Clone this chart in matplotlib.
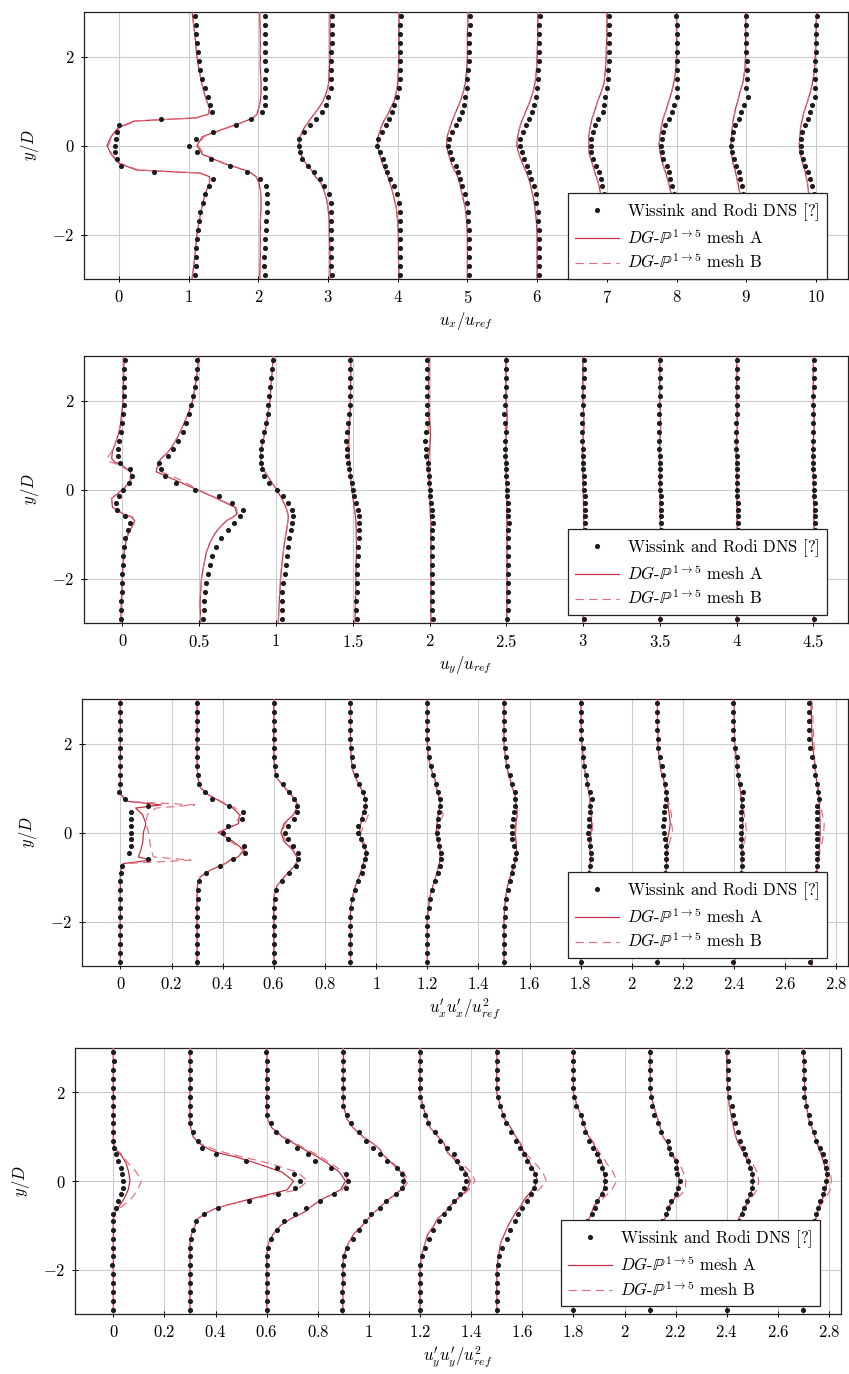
import matplotlib
matplotlib.use('Agg')
import matplotlib.pyplot as plt
from matplotlib.ticker import FuncFormatter
import numpy as np

plt.rcParams['font.family'] = 'serif'
plt.rcParams['font.serif'] = ['cmr10']
plt.rcParams['mathtext.fontset'] = 'cm'
plt.rcParams['axes.formatter.use_mathtext'] = True
plt.rcParams['axes.unicode_minus'] = True

# y positions of the DNS samples and of the simulated profiles
y_dns = [-2.9, -2.7, -2.5, -2.3, -2.1, -1.9, -1.7, -1.5, -1.3, -1.1,
         -0.9, -0.75, -0.6, -0.45, -0.3, -0.15, 0,
         0.15, 0.3, 0.45, 0.6, 0.75, 0.9,
         1.1, 1.3, 1.5, 1.7, 1.9, 2.1, 2.3, 2.5, 2.7, 2.9]
y_line = [-3, -2.5, -2, -1.7, -1.4, -1.2, -1.0, -0.85, -0.7, -0.62, -0.55, -0.4, -0.2,
          0,
          0.2, 0.4, 0.55, 0.62, 0.7, 0.85, 1.0, 1.2, 1.4, 1.7, 2, 2.5, 3]

# ---------------- u_x / u_ref ----------------
ux_offsets = [0, 1, 2, 3, 4, 5, 6, 7, 8, 9]
ux_xticks = [0, 1, 2, 3, 4, 5, 6, 7, 8, 9, 10]
ux_dns = [
    [1.09, 1.10, 1.11, 1.11, 1.12, 1.14, 1.15, 1.17, 1.20, 1.24, 1.30, 1.35, 0.50, 0.03, -0.03, -0.05, -0.06,
     -0.04, -0.02, 0.00, 0.60, 1.33, 1.31, 1.28, 1.23, 1.19, 1.17, 1.15, 1.14, 1.12, 1.11, 1.10, 1.09],
    [1.09, 1.08, 1.08, 1.09, 1.10, 1.11, 1.11, 1.12, 1.12, 1.12, 1.11, 1.02, 0.84, 0.60, 0.32, 0.12, 0.00,
     0.10, 0.35, 0.68, 0.90, 1.05, 1.10, 1.10, 1.10, 1.10, 1.11, 1.10, 1.10, 1.10, 1.10, 1.10, 1.10],
    [1.06, 1.05, 1.05, 1.05, 1.05, 1.05, 1.05, 1.05, 1.04, 1.01, 0.94, 0.88, 0.80, 0.71, 0.63, 0.60, 0.59,
     0.59, 0.66, 0.74, 0.83, 0.91, 0.97, 1.00, 1.04, 1.05, 1.05, 1.05, 1.05, 1.06, 1.06, 1.06, 1.06],
    [1.03, 1.03, 1.03, 1.03, 1.04, 1.04, 1.04, 1.03, 1.02, 0.99, 0.94, 0.89, 0.85, 0.82, 0.79, 0.75, 0.71,
     0.72, 0.78, 0.83, 0.88, 0.92, 0.95, 0.99, 1.02, 1.03, 1.04, 1.04, 1.04, 1.04, 1.04, 1.04, 1.05],
    [1.03, 1.03, 1.03, 1.03, 1.03, 1.02, 1.01, 1.01, 1.00, 0.96, 0.92, 0.90, 0.86, 0.83, 0.78, 0.75, 0.72,
     0.74, 0.78, 0.83, 0.88, 0.92, 0.95, 0.97, 0.99, 1.00, 1.01, 1.02, 1.02, 1.03, 1.03, 1.04, 1.04],
    [1.03, 1.03, 1.03, 1.03, 1.03, 1.03, 1.02, 1.02, 0.99, 0.98, 0.95, 0.91, 0.88, 0.86, 0.81, 0.78, 0.76,
     0.76, 0.80, 0.84, 0.89, 0.93, 0.96, 0.99, 1.00, 1.02, 1.02, 1.03, 1.03, 1.03, 1.03, 1.03, 1.04],
    [1.02, 1.02, 1.02, 1.02, 1.02, 1.02, 1.01, 1.00, 0.98, 0.96, 0.93, 0.91, 0.89, 0.85, 0.80, 0.77, 0.77,
     0.78, 0.80, 0.83, 0.87, 0.94, 0.96, 0.98, 1.00, 1.02, 1.02, 1.03, 1.03, 1.03, 1.03, 1.03, 1.03],
    [1.03, 1.02, 1.02, 1.02, 1.02, 1.02, 1.01, 1.00, 0.99, 0.97, 0.94, 0.91, 0.89, 0.86, 0.81, 0.79, 0.78,
     0.79, 0.81, 0.84, 0.89, 0.93, 0.97, 1.00, 1.01, 1.01, 1.00, 1.00, 1.00, 1.00, 1.00, 1.00, 0.99],
    [1.04, 1.03, 1.03, 1.03, 1.02, 1.02, 1.01, 1.00, 0.98, 0.96, 0.94, 0.91, 0.89, 0.86, 0.82, 0.80, 0.78,
     0.79, 0.81, 0.84, 0.89, 0.93, 0.97, 1.02, 1.00, 1.01, 1.01, 1.01, 1.00, 1.00, 1.00, 1.00, 1.00],
    [1.02, 1.02, 1.01, 1.01, 1.01, 1.01, 1.00, 1.00, 0.99, 0.97, 0.95, 0.92, 0.89, 0.85, 0.81, 0.79, 0.78,
     0.78, 0.80, 0.84, 0.88, 0.92, 0.95, 0.98, 0.99, 0.99, 0.99, 0.99, 1.00, 1.00, 1.00, 1.00, 1.02],
]
ux_meshA = [
    [1.05, 1.09, 1.12, 1.15, 1.19, 1.22, 1.26, 1.30, 1.30, 1.16, 0.25, 0.00, -0.11, -0.17,
     -0.11, -0.01, 0.22, 1.10, 1.28, 1.30, 1.26, 1.22, 1.19, 1.15, 1.12, 1.09, 1.05],
    [1.02, 1.03, 1.03, 1.03, 1.04, 1.04, 1.03, 1.01, 0.97, 0.90, 0.80, 0.50, 0.20, 0.12,
     0.20, 0.55, 0.82, 0.92, 0.98, 1.01, 1.03, 1.04, 1.04, 1.03, 1.03, 1.03, 1.02],
    [1.03, 1.03, 1.02, 1.02, 1.00, 0.98, 0.94, 0.90, 0.82, 0.79, 0.76, 0.68, 0.61, 0.58,
     0.60, 0.66, 0.73, 0.76, 0.80, 0.87, 0.93, 0.98, 1.01, 1.02, 1.03, 1.03, 1.03],
    [1.02, 1.01, 1.01, 1.00, 0.98, 0.95, 0.92, 0.89, 0.86, 0.84, 0.82, 0.78, 0.74, 0.71,
     0.72, 0.76, 0.80, 0.83, 0.86, 0.90, 0.95, 0.98, 1.00, 1.01, 1.02, 1.02, 1.02],
    [1.00, 1.00, 1.00, 0.99, 0.97, 0.94, 0.91, 0.89, 0.86, 0.84, 0.81, 0.77, 0.73, 0.70,
     0.71, 0.75, 0.78, 0.80, 0.82, 0.86, 0.90, 0.94, 0.97, 0.99, 1.00, 1.00, 1.01],
    [1.00, 1.00, 1.00, 0.99, 0.97, 0.95, 0.92, 0.90, 0.87, 0.85, 0.83, 0.79, 0.74, 0.71,
     0.72, 0.75, 0.78, 0.80, 0.82, 0.86, 0.90, 0.94, 0.97, 0.99, 1.00, 1.01, 1.01],
    [1.00, 1.00, 0.99, 0.98, 0.96, 0.93, 0.90, 0.88, 0.85, 0.83, 0.82, 0.79, 0.75, 0.74,
     0.74, 0.76, 0.78, 0.79, 0.81, 0.84, 0.87, 0.92, 0.96, 0.98, 0.99, 1.00, 1.00],
    [1.00, 1.00, 0.99, 0.98, 0.96, 0.94, 0.91, 0.89, 0.86, 0.85, 0.83, 0.80, 0.77, 0.75,
     0.76, 0.78, 0.80, 0.81, 0.83, 0.86, 0.89, 0.93, 0.96, 0.99, 1.00, 1.00, 1.00],
    [1.00, 0.99, 0.98, 0.97, 0.95, 0.92, 0.90, 0.88, 0.86, 0.85, 0.84, 0.81, 0.79, 0.78,
     0.79, 0.80, 0.81, 0.82, 0.83, 0.85, 0.88, 0.91, 0.95, 0.98, 0.99, 0.99, 0.99],
    [1.00, 0.99, 0.98, 0.97, 0.94, 0.91, 0.89, 0.88, 0.86, 0.85, 0.84, 0.81, 0.78, 0.76,
     0.77, 0.78, 0.80, 0.81, 0.82, 0.85, 0.88, 0.92, 0.95, 0.98, 0.99, 1.00, 1.01],
]
# mesh B, only where it departs visibly from mesh A
ux_meshB = {
    0: [1.05, 1.09, 1.12, 1.15, 1.19, 1.22, 1.26, 1.30, 1.31, 1.18, 0.28, 0.02, -0.10, -0.15,
        -0.10, 0.01, 0.25, 1.12, 1.29, 1.30, 1.26, 1.22, 1.19, 1.15, 1.12, 1.09, 1.05],
    1: [1.02, 1.03, 1.03, 1.03, 1.04, 1.04, 1.03, 1.01, 0.97, 0.91, 0.81, 0.52, 0.22, 0.14,
        0.22, 0.57, 0.83, 0.93, 0.98, 1.01, 1.03, 1.04, 1.04, 1.03, 1.03, 1.03, 1.02],
}

# ---------------- u_y / u_ref ----------------
uy_offsets = [0, 0.5, 1.0, 1.5, 2.0, 2.5, 3.0, 3.5, 4.0, 4.5]
uy_xticks = [0, 0.5, 1, 1.5, 2, 2.5, 3, 3.5, 4, 4.5]
uy_dns = [
    [-0.008, -0.009, -0.007, -0.005, -0.003, 0.000, 0.002, 0.004, 0.012, 0.020, 0.036, 0.048, 0.020, -0.035, -0.040, -0.020, 0.002,
     0.045, 0.060, 0.050, -0.017, -0.030, -0.030, -0.020, -0.009, -0.002, 0.002, 0.010, 0.012, 0.013, 0.013, 0.013, 0.015],
    [0.022, 0.030, 0.030, 0.035, 0.042, 0.055, 0.068, 0.085, 0.110, 0.140, 0.185, 0.230, 0.265, 0.285, 0.215, 0.130, -0.030,
     -0.150, -0.220, -0.250, -0.260, -0.200, -0.170, -0.140, -0.105, -0.085, -0.065, -0.056, -0.040, -0.025, -0.020, -0.017, -0.013],
    [0.037, 0.038, 0.038, 0.040, 0.045, 0.058, 0.065, 0.070, 0.078, 0.088, 0.100, 0.105, 0.109, 0.105, 0.080, 0.045, 0.004,
     -0.045, -0.075, -0.090, -0.100, -0.099, -0.098, -0.090, -0.077, -0.067, -0.055, -0.050, -0.045, -0.038, -0.033, -0.027, -0.022],
    [0.025, 0.022, 0.022, 0.025, 0.026, 0.027, 0.030, 0.031, 0.034, 0.038, 0.042, 0.042, 0.040, 0.035, 0.020, 0.010, 0.002,
     -0.008, -0.015, -0.022, -0.028, -0.035, -0.040, -0.043, -0.038, -0.028, -0.022, -0.018, -0.017, -0.017, -0.017, -0.016, -0.016],
    [0.020, 0.015, 0.013, 0.015, 0.015, 0.015, 0.015, 0.016, 0.017, 0.018, 0.019, 0.020, 0.019, 0.015, 0.012, 0.006, 0.000,
     -0.003, -0.006, -0.010, -0.013, -0.020, -0.024, -0.028, -0.020, -0.018, -0.017, -0.017, -0.017, -0.017, -0.017, -0.017, -0.017],
    [0.004, 0.008, 0.008, 0.008, 0.008, 0.008, 0.009, 0.009, 0.010, 0.012, 0.014, 0.015, 0.014, 0.011, 0.009, 0.007, 0.005,
     0.003, 0.001, 0.000, -0.003, -0.010, -0.009, -0.006, -0.005, -0.008, -0.013, -0.010, -0.006, -0.004, -0.003, -0.002, 0.000],
    [0.003, 0.004, 0.004, 0.005, 0.005, 0.006, 0.007, 0.008, 0.009, 0.010, 0.012, 0.013, 0.013, 0.012, 0.011, 0.010, 0.008,
     0.006, 0.004, 0.002, 0.000, -0.002, -0.003, -0.004, -0.005, -0.006, -0.004, -0.002, 0.000, 0.002, 0.003, 0.004, 0.004],
    [0.004, 0.005, 0.005, 0.006, 0.006, 0.007, 0.007, 0.008, 0.008, 0.009, 0.009, 0.009, 0.009, 0.008, 0.007, 0.006, 0.004,
     0.003, 0.002, 0.000, -0.001, -0.002, -0.003, -0.004, -0.005, -0.006, -0.005, -0.003, -0.001, 0.001, 0.002, 0.003, 0.004],
    [0.004, 0.004, 0.005, 0.005, 0.006, 0.006, 0.007, 0.007, 0.008, 0.008, 0.009, 0.009, 0.009, 0.008, 0.006, 0.005, 0.004,
     0.003, 0.002, 0.001, 0.000, -0.001, -0.002, -0.003, -0.003, -0.002, -0.001, 0.000, 0.001, 0.002, 0.003, 0.003, 0.004],
    [0.006, 0.007, 0.007, 0.008, 0.008, 0.009, 0.010, 0.011, 0.012, 0.013, 0.013, 0.013, 0.012, 0.010, 0.008, 0.006, 0.004,
     0.003, 0.002, 0.000, -0.001, -0.002, -0.003, -0.004, -0.004, -0.003, -0.002, -0.001, 0.000, 0.002, 0.003, 0.003, 0.004],
]
uy_meshA = [
    [-0.013, -0.006, 0.000, 0.004, 0.012, 0.022, 0.037, 0.060, 0.080, 0.060, 0.004, -0.065, -0.070, 0.004,
     0.055, 0.054, -0.006, -0.050, -0.070, -0.065, -0.050, -0.030, -0.015, -0.005, 0.005, 0.008, 0.010],
    [0.010, 0.006, 0.015, 0.030, 0.048, 0.070, 0.100, 0.135, 0.178, 0.220, 0.245, 0.233, 0.113, -0.017,
     -0.148, -0.280, -0.270, -0.265, -0.246, -0.200, -0.170, -0.137, -0.110, -0.072, -0.043, -0.017, -0.002],
    [0.015, 0.022, 0.030, 0.038, 0.048, 0.055, 0.065, 0.072, 0.078, 0.080, 0.078, 0.065, 0.037, 0.004,
     -0.035, -0.072, -0.094, -0.098, -0.100, -0.100, -0.090, -0.078, -0.065, -0.052, -0.039, -0.028, -0.017],
    [0.015, 0.018, 0.020, 0.022, 0.024, 0.024, 0.023, 0.022, 0.020, 0.018, 0.016, 0.010, 0.002, -0.006,
     -0.012, -0.016, -0.018, -0.020, -0.022, -0.024, -0.025, -0.024, -0.022, -0.018, -0.015, -0.013, -0.012],
    [0.008, 0.010, 0.010, 0.010, 0.010, 0.010, 0.010, 0.010, 0.008, 0.006, 0.005, 0.004, 0.002, 0.000,
     -0.002, -0.004, -0.006, -0.006, -0.005, -0.002, 0.002, 0.006, 0.004, -0.004, -0.006, -0.005, -0.004],
    [0.003, 0.004, 0.005, 0.005, 0.005, 0.005, 0.005, 0.004, 0.004, 0.004, 0.003, 0.003, 0.002, 0.001,
     0.000, -0.002, -0.003, -0.003, -0.003, -0.004, -0.004, -0.002, 0.004, 0.006, -0.002, -0.003, -0.002],
    [0.001, 0.002, 0.003, 0.003, 0.004, 0.004, 0.004, 0.004, 0.004, 0.004, 0.003, 0.003, 0.002, 0.001,
     0.000, -0.001, -0.002, -0.002, -0.003, -0.004, -0.003, 0.000, 0.006, 0.004, -0.002, -0.002, -0.001],
    [0.002, 0.003, 0.003, 0.004, 0.004, 0.004, 0.004, 0.004, 0.003, 0.003, 0.003, 0.002, 0.002, 0.001,
     0.000, -0.001, -0.002, -0.002, -0.003, -0.003, -0.002, 0.001, 0.005, 0.003, -0.002, -0.002, -0.001],
    [0.001, 0.002, 0.003, 0.003, 0.003, 0.004, 0.004, 0.004, 0.003, 0.003, 0.003, 0.002, 0.001, 0.000,
     0.000, -0.001, -0.002, -0.002, -0.002, -0.003, -0.002, 0.000, 0.004, 0.003, -0.001, -0.001, 0.000],
    [0.002, 0.003, 0.004, 0.004, 0.004, 0.005, 0.005, 0.005, 0.004, 0.004, 0.003, 0.003, 0.002, 0.001,
     0.000, -0.001, -0.002, -0.002, -0.003, -0.003, -0.002, 0.001, 0.005, 0.003, -0.001, -0.001, 0.000],
]
uy_meshB = {
    0: [-0.013, -0.006, 0.000, 0.004, 0.012, 0.022, 0.037, 0.062, 0.085, 0.070, 0.010, -0.060, -0.072, 0.000,
        0.050, 0.050, -0.020, -0.080, -0.100, -0.070, -0.050, -0.030, -0.015, -0.005, 0.005, 0.008, 0.010],
    1: [0.010, 0.006, 0.015, 0.030, 0.048, 0.070, 0.100, 0.135, 0.180, 0.225, 0.250, 0.240, 0.120, -0.010,
        -0.110, -0.250, -0.270, -0.265, -0.246, -0.200, -0.170, -0.137, -0.110, -0.072, -0.043, -0.017, -0.002],
    3: [0.015, 0.018, 0.020, 0.022, 0.024, 0.024, 0.023, 0.022, 0.020, 0.018, 0.016, 0.010, 0.002, -0.006,
        -0.012, -0.016, -0.018, -0.020, -0.024, -0.030, -0.035, -0.040, -0.028, -0.018, -0.015, -0.013, -0.012],
    4: [0.008, 0.010, 0.010, 0.010, 0.010, 0.010, 0.010, 0.010, 0.008, 0.006, 0.005, 0.004, 0.002, 0.000,
        -0.004, -0.010, -0.020, -0.022, -0.020, -0.010, 0.000, 0.000, -0.010, -0.004, -0.006, -0.005, -0.004],
    5: [0.003, 0.004, 0.005, 0.005, 0.005, 0.005, 0.005, 0.004, 0.004, 0.004, 0.003, 0.003, 0.002, 0.001,
        0.000, -0.004, -0.008, -0.008, -0.006, -0.004, -0.004, -0.006, -0.006, 0.006, -0.002, -0.003, -0.002],
    6: [0.001, 0.002, 0.003, 0.003, 0.004, 0.004, 0.004, 0.004, 0.004, 0.004, 0.003, 0.003, 0.002, 0.001,
        0.000, -0.002, -0.004, -0.005, -0.006, -0.006, -0.004, -0.004, 0.002, 0.004, -0.002, -0.002, -0.001],
}

# ---------------- u'x u'x / u_ref^2 ----------------
uxx_offsets = [0, 0.3, 0.6, 0.9, 1.2, 1.5, 1.8, 2.1, 2.4, 2.7]
uxx_xticks = [0, 0.2, 0.4, 0.6, 0.8, 1, 1.2, 1.4, 1.6, 1.8, 2, 2.2, 2.4, 2.6, 2.8]
uxx_dns = [
    [0.000, 0.000, 0.000, 0.000, 0.000, 0.000, 0.000, 0.000, 0.000, 0.000, 0.001, 0.008, 0.110, 0.032, 0.042, 0.042, 0.042,
     0.040, 0.040, 0.042, 0.110, 0.020, -0.006, 0.000, 0.000, 0.000, 0.000, 0.000, 0.000, 0.000, 0.000, 0.000, 0.000],
    [0.000, 0.000, 0.000, 0.000, 0.000, 0.001, 0.001, 0.002, 0.002, 0.006, 0.035, 0.090, 0.140, 0.186, 0.183, 0.120, 0.100,
     0.120, 0.175, 0.178, 0.125, 0.060, 0.030, 0.008, 0.004, 0.001, 0.000, 0.000, 0.000, 0.000, 0.000, 0.000, 0.000],
    [0.000, 0.000, 0.000, 0.000, 0.000, 0.000, 0.000, 0.003, 0.010, 0.031, 0.060, 0.085, 0.093, 0.093, 0.075, 0.055, 0.042,
     0.055, 0.078, 0.091, 0.090, 0.077, 0.058, 0.035, 0.010, 0.003, 0.000, 0.000, 0.000, 0.000, 0.000, 0.000, 0.000],
    [-0.003, -0.002, -0.002, -0.002, -0.002, -0.001, 0.000, 0.005, 0.017, 0.031, 0.045, 0.050, 0.055, 0.062, 0.052, 0.040, 0.030,
     0.030, 0.045, 0.053, 0.057, 0.055, 0.050, 0.034, 0.020, 0.008, 0.004, 0.000, -0.002, -0.002, -0.002, -0.002, -0.002],
    [-0.003, -0.003, -0.003, -0.002, -0.001, 0.000, 0.005, 0.010, 0.017, 0.030, 0.040, 0.048, 0.052, 0.054, 0.045, 0.040, 0.037,
     0.040, 0.043, 0.046, 0.050, 0.048, 0.043, 0.033, 0.024, 0.013, 0.005, 0.002, 0.000, 0.000, 0.000, 0.000, 0.000],
    [0.000, 0.000, 0.000, 0.000, 0.000, 0.002, 0.004, 0.008, 0.015, 0.023, 0.030, 0.037, 0.043, 0.046, 0.038, 0.032, 0.030,
     0.030, 0.035, 0.040, 0.044, 0.043, 0.043, 0.033, 0.022, 0.013, 0.008, 0.002, 0.000, 0.000, 0.000, 0.000, 0.000],
    [0.000, 0.001, 0.002, 0.003, 0.005, 0.008, 0.012, 0.016, 0.022, 0.028, 0.033, 0.035, 0.039, 0.039, 0.036, 0.033, 0.030,
     0.031, 0.033, 0.036, 0.038, 0.043, 0.036, 0.026, 0.021, 0.014, 0.010, 0.007, 0.003, 0.002, 0.001, 0.000, 0.000],
    [0.000, 0.002, 0.004, 0.006, 0.010, 0.014, 0.018, 0.022, 0.026, 0.028, 0.030, 0.032, 0.033, 0.034, 0.033, 0.030, 0.026,
     0.023, 0.025, 0.027, 0.030, 0.032, 0.034, 0.030, 0.023, 0.016, 0.008, 0.004, 0.001, 0.000, 0.000, 0.000, 0.000],
    [-0.003, 0.000, 0.005, 0.009, 0.013, 0.017, 0.020, 0.023, 0.025, 0.027, 0.028, 0.030, 0.030, 0.030, 0.028, 0.027, 0.027,
     0.025, 0.025, 0.027, 0.030, 0.032, 0.034, 0.022, 0.016, 0.012, 0.010, 0.004, -0.003, -0.003, -0.003, -0.003, -0.003],
    [-0.004, 0.000, 0.003, 0.006, 0.009, 0.011, 0.013, 0.015, 0.016, 0.017, 0.018, 0.022, 0.025, 0.025, 0.022, 0.024, 0.025,
     0.022, 0.022, 0.022, 0.022, 0.030, 0.028, 0.023, 0.016, 0.012, 0.006, -0.004, -0.007, -0.007, -0.007, -0.007, -0.006],
]
uxx_meshA = [
    [0.000, 0.000, 0.000, 0.000, 0.000, 0.000, 0.000, 0.001, 0.010, 0.120, 0.070, 0.080, 0.088, 0.090,
     0.100, 0.087, 0.060, 0.160, 0.030, 0.002, 0.000, 0.000, 0.000, 0.000, 0.000, 0.000, 0.000],
    [0.000, 0.000, 0.000, 0.000, 0.000, 0.001, 0.012, 0.050, 0.110, 0.130, 0.160, 0.185, 0.140, 0.082,
     0.162, 0.166, 0.140, 0.114, 0.090, 0.043, 0.014, 0.004, 0.001, 0.000, 0.000, 0.000, 0.000],
    [0.000, 0.000, 0.000, 0.000, 0.002, 0.012, 0.040, 0.065, 0.088, 0.094, 0.090, 0.075, 0.040, 0.028,
     0.040, 0.076, 0.090, 0.093, 0.088, 0.068, 0.045, 0.015, 0.004, 0.000, 0.000, 0.000, 0.000],
    [0.000, 0.000, 0.000, 0.000, 0.010, 0.019, 0.033, 0.042, 0.050, 0.055, 0.058, 0.060, 0.044, 0.035,
     0.040, 0.047, 0.058, 0.060, 0.058, 0.053, 0.040, 0.022, 0.008, 0.002, 0.000, 0.000, 0.000],
    [0.000, 0.000, 0.000, 0.004, 0.012, 0.022, 0.033, 0.040, 0.047, 0.050, 0.051, 0.050, 0.042, 0.034,
     0.038, 0.043, 0.048, 0.050, 0.050, 0.044, 0.036, 0.030, 0.017, 0.004, 0.000, 0.000, 0.000],
    [0.000, 0.000, 0.000, 0.002, 0.008, 0.014, 0.025, 0.034, 0.042, 0.045, 0.048, 0.049, 0.046, 0.043,
     0.046, 0.052, 0.050, 0.048, 0.046, 0.043, 0.033, 0.024, 0.014, 0.005, 0.000, 0.000, 0.000],
    [0.000, 0.002, 0.006, 0.010, 0.017, 0.024, 0.030, 0.034, 0.037, 0.039, 0.039, 0.036, 0.036, 0.040,
     0.043, 0.041, 0.038, 0.037, 0.036, 0.033, 0.029, 0.024, 0.015, 0.010, 0.004, 0.001, 0.000],
    [0.000, 0.004, 0.012, 0.018, 0.025, 0.028, 0.032, 0.034, 0.035, 0.036, 0.036, 0.037, 0.038, 0.045,
     0.050, 0.046, 0.043, 0.042, 0.040, 0.036, 0.030, 0.024, 0.013, 0.006, 0.002, 0.000, 0.000],
    [0.000, 0.008, 0.016, 0.020, 0.024, 0.027, 0.028, 0.029, 0.030, 0.030, 0.030, 0.030, 0.031, 0.033,
     0.034, 0.032, 0.030, 0.030, 0.029, 0.026, 0.023, 0.018, 0.012, 0.008, 0.002, 0.000, 0.000],
    [0.004, 0.008, 0.013, 0.016, 0.018, 0.020, 0.022, 0.023, 0.026, 0.028, 0.030, 0.032, 0.035, 0.036,
     0.036, 0.035, 0.034, 0.033, 0.031, 0.030, 0.027, 0.021, 0.017, 0.012, 0.006, 0.002, 0.000],
]
uxx_meshB = {
    0: [0.000, 0.000, 0.000, 0.000, 0.000, 0.000, 0.000, 0.001, 0.015, 0.275, 0.130, 0.120, 0.115, 0.110,
        0.100, 0.105, 0.140, 0.290, 0.020, 0.002, 0.000, 0.000, 0.000, 0.000, 0.000, 0.000, 0.000],
    1: [0.000, 0.000, 0.000, 0.000, 0.000, 0.001, 0.012, 0.050, 0.105, 0.125, 0.155, 0.180, 0.130, 0.090,
        0.150, 0.170, 0.150, 0.120, 0.095, 0.045, 0.014, 0.004, 0.001, 0.000, 0.000, 0.000, 0.000],
    2: [0.000, 0.000, 0.000, 0.000, 0.002, 0.012, 0.040, 0.065, 0.085, 0.092, 0.090, 0.078, 0.048, 0.032,
        0.045, 0.078, 0.088, 0.090, 0.085, 0.065, 0.042, 0.015, 0.004, 0.000, 0.000, 0.000, 0.000],
    3: [0.000, 0.000, 0.000, 0.000, 0.010, 0.019, 0.033, 0.042, 0.052, 0.058, 0.062, 0.070, 0.050, 0.040,
        0.055, 0.070, 0.062, 0.060, 0.058, 0.053, 0.040, 0.022, 0.008, 0.002, 0.000, 0.000, 0.000],
    4: [0.000, 0.000, 0.000, 0.004, 0.012, 0.022, 0.033, 0.040, 0.045, 0.048, 0.050, 0.050, 0.045, 0.040,
        0.050, 0.062, 0.055, 0.052, 0.050, 0.044, 0.036, 0.028, 0.015, 0.004, 0.000, 0.000, 0.000],
    5: [0.000, 0.000, 0.000, 0.002, 0.008, 0.014, 0.022, 0.030, 0.040, 0.044, 0.047, 0.050, 0.048, 0.045,
        0.048, 0.052, 0.050, 0.048, 0.046, 0.043, 0.033, 0.022, 0.012, 0.005, 0.000, 0.000, 0.000],
    6: [0.000, 0.002, 0.006, 0.010, 0.017, 0.024, 0.030, 0.034, 0.037, 0.039, 0.039, 0.038, 0.040, 0.045,
        0.047, 0.043, 0.040, 0.038, 0.036, 0.033, 0.029, 0.024, 0.015, 0.010, 0.004, 0.001, 0.000],
    7: [0.000, 0.004, 0.012, 0.018, 0.025, 0.028, 0.032, 0.034, 0.035, 0.036, 0.036, 0.040, 0.048, 0.060,
        0.055, 0.055, 0.050, 0.047, 0.043, 0.036, 0.030, 0.024, 0.013, 0.006, 0.002, 0.000, 0.000],
    8: [0.000, 0.008, 0.016, 0.020, 0.024, 0.027, 0.028, 0.029, 0.030, 0.030, 0.032, 0.035, 0.040, 0.048,
        0.045, 0.040, 0.035, 0.032, 0.030, 0.026, 0.023, 0.018, 0.012, 0.008, 0.002, 0.000, 0.000],
    9: [0.004, 0.008, 0.013, 0.016, 0.018, 0.020, 0.022, 0.023, 0.026, 0.028, 0.032, 0.036, 0.045, 0.050,
        0.052, 0.045, 0.040, 0.037, 0.034, 0.031, 0.028, 0.022, 0.018, 0.014, 0.012, 0.008, 0.004],
}

# ---------------- u'y u'y / u_ref^2 ----------------
uyy_offsets = [0, 0.3, 0.6, 0.9, 1.2, 1.5, 1.8, 2.1, 2.4, 2.7]
uyy_xticks = uxx_xticks
uyy_dns = [
    [0.000, 0.000, 0.000, 0.000, 0.000, -0.004, -0.002, 0.000, 0.000, 0.000, 0.000, 0.000, 0.012, 0.020, 0.030, 0.037, 0.039,
     0.035, 0.030, 0.020, 0.009, 0.002, 0.000, 0.000, 0.000, 0.000, 0.000, 0.000, 0.000, 0.000, 0.000, 0.002, 0.000],
    [0.000, 0.000, 0.000, 0.000, 0.000, 0.000, 0.000, 0.000, 0.003, 0.010, 0.025, 0.055, 0.110, 0.230, 0.345, 0.410, 0.430,
     0.405, 0.340, 0.220, 0.100, 0.045, 0.030, 0.010, 0.000, 0.000, 0.000, 0.000, 0.000, 0.000, 0.000, 0.000, -0.002],
    [0.000, 0.000, 0.000, 0.000, 0.000, 0.000, 0.000, 0.007, 0.018, 0.040, 0.068, 0.110, 0.153, 0.210, 0.265, 0.310, 0.320,
     0.310, 0.252, 0.190, 0.160, 0.120, 0.080, 0.037, 0.015, 0.002, 0.000, 0.000, 0.000, 0.000, 0.000, 0.000, -0.003],
    [-0.005, -0.004, -0.004, -0.003, -0.003, -0.001, 0.003, 0.015, 0.037, 0.061, 0.085, 0.108, 0.142, 0.165, 0.205, 0.230, 0.235,
     0.230, 0.210, 0.170, 0.145, 0.115, 0.088, 0.060, 0.030, 0.013, -0.003, 0.000, 0.000, 0.000, 0.000, 0.000, 0.000],
    [0.000, 0.000, 0.000, 0.000, 0.000, 0.000, 0.006, 0.019, 0.035, 0.050, 0.073, 0.095, 0.115, 0.133, 0.155, 0.172, 0.180,
     0.175, 0.160, 0.145, 0.132, 0.107, 0.080, 0.058, 0.032, 0.021, 0.008, 0.000, 0.000, 0.000, 0.000, 0.000, 0.000],
    [0.000, 0.000, 0.000, 0.000, 0.000, 0.005, 0.010, 0.022, 0.040, 0.052, 0.070, 0.085, 0.100, 0.117, 0.134, 0.145, 0.150,
     0.148, 0.135, 0.120, 0.105, 0.090, 0.077, 0.054, 0.038, 0.025, 0.014, 0.004, 0.000, 0.000, 0.000, 0.000, 0.000],
    [0.000, 0.000, 0.000, 0.000, 0.000, 0.005, 0.010, 0.018, 0.028, 0.045, 0.055, 0.073, 0.085, 0.092, 0.110, 0.122, 0.125,
     0.125, 0.112, 0.100, 0.092, 0.078, 0.060, 0.045, 0.038, 0.030, 0.012, 0.002, 0.000, 0.000, 0.000, 0.000, 0.000],
    [0.000, 0.000, 0.002, 0.005, 0.010, 0.015, 0.020, 0.027, 0.035, 0.042, 0.048, 0.062, 0.072, 0.083, 0.100, 0.110, 0.116,
     0.105, 0.103, 0.100, 0.080, 0.075, 0.070, 0.042, 0.030, 0.016, 0.008, 0.003, 0.000, 0.000, 0.000, 0.000, 0.000],
    [0.000, 0.000, 0.003, 0.006, 0.010, 0.015, 0.020, 0.026, 0.033, 0.040, 0.048, 0.060, 0.068, 0.080, 0.090, 0.097, 0.100,
     0.099, 0.092, 0.083, 0.070, 0.063, 0.052, 0.043, 0.032, 0.025, 0.020, 0.010, 0.005, 0.004, 0.004, 0.004, 0.000],
    [0.000, 0.000, 0.003, 0.006, 0.010, 0.014, 0.018, 0.022, 0.027, 0.033, 0.040, 0.050, 0.057, 0.063, 0.075, 0.081, 0.087,
     0.093, 0.090, 0.083, 0.075, 0.063, 0.050, 0.042, 0.027, 0.023, 0.012, 0.004, 0.002, 0.002, 0.002, 0.002, 0.000],
]
uyy_meshA = [
    [0.000, 0.000, 0.000, 0.000, 0.000, 0.000, 0.000, 0.000, 0.008, 0.018, 0.025, 0.042, 0.058, 0.065,
     0.060, 0.050, 0.035, 0.025, 0.010, 0.000, 0.000, 0.000, 0.000, 0.000, 0.000, 0.000, 0.000],
    [0.000, 0.000, 0.000, 0.000, 0.000, 0.006, 0.020, 0.030, 0.070, 0.100, 0.140, 0.240, 0.380, 0.405,
     0.360, 0.260, 0.175, 0.120, 0.079, 0.035, 0.012, 0.003, 0.000, 0.000, 0.000, 0.000, 0.000],
    [0.000, 0.000, 0.000, 0.000, 0.007, 0.025, 0.055, 0.095, 0.148, 0.165, 0.180, 0.220, 0.289, 0.308,
     0.285, 0.238, 0.197, 0.176, 0.150, 0.106, 0.060, 0.020, 0.003, 0.000, 0.000, 0.000, 0.000],
    [-0.002, -0.002, -0.002, 0.000, 0.020, 0.040, 0.075, 0.097, 0.122, 0.140, 0.150, 0.180, 0.225, 0.244,
     0.225, 0.190, 0.163, 0.150, 0.146, 0.115, 0.076, 0.038, 0.014, 0.000, 0.000, 0.000, 0.000],
    [0.000, 0.000, 0.000, 0.005, 0.020, 0.030, 0.055, 0.068, 0.100, 0.108, 0.120, 0.145, 0.185, 0.197,
     0.180, 0.146, 0.125, 0.110, 0.102, 0.094, 0.070, 0.040, 0.028, 0.010, 0.000, 0.000, 0.000],
    [0.000, 0.000, 0.000, 0.007, 0.015, 0.030, 0.045, 0.060, 0.075, 0.086, 0.095, 0.110, 0.140, 0.160,
     0.148, 0.130, 0.116, 0.110, 0.102, 0.092, 0.075, 0.055, 0.030, 0.014, 0.000, 0.000, 0.000],
    [0.000, 0.000, 0.000, 0.006, 0.020, 0.035, 0.050, 0.062, 0.072, 0.077, 0.082, 0.100, 0.118, 0.125,
     0.118, 0.112, 0.100, 0.094, 0.088, 0.079, 0.060, 0.045, 0.035, 0.014, 0.000, 0.000, 0.000],
    [0.000, 0.000, 0.000, 0.010, 0.025, 0.038, 0.050, 0.058, 0.068, 0.072, 0.076, 0.095, 0.108, 0.115,
     0.110, 0.105, 0.090, 0.080, 0.075, 0.068, 0.050, 0.040, 0.030, 0.014, 0.002, 0.000, 0.000],
    [0.000, 0.000, 0.000, 0.010, 0.020, 0.030, 0.040, 0.047, 0.060, 0.068, 0.075, 0.085, 0.099, 0.104,
     0.100, 0.085, 0.073, 0.067, 0.060, 0.045, 0.035, 0.027, 0.020, 0.010, 0.005, 0.000, 0.000],
    [0.000, 0.000, 0.000, 0.010, 0.020, 0.030, 0.043, 0.048, 0.055, 0.058, 0.062, 0.075, 0.086, 0.093,
     0.090, 0.080, 0.072, 0.068, 0.063, 0.053, 0.045, 0.033, 0.020, 0.012, 0.006, 0.002, 0.000],
]
uyy_meshB = {
    0: [0.000, 0.000, 0.000, 0.000, 0.000, 0.000, 0.000, 0.000, 0.008, 0.022, 0.040, 0.070, 0.095, 0.110,
        0.090, 0.058, 0.040, 0.030, 0.012, 0.000, 0.000, 0.000, 0.000, 0.000, 0.000, 0.000, 0.000],
    1: [0.000, 0.000, 0.000, 0.000, 0.000, 0.006, 0.020, 0.030, 0.070, 0.100, 0.140, 0.250, 0.420, 0.460,
        0.420, 0.310, 0.200, 0.150, 0.100, 0.040, 0.013, 0.003, 0.000, 0.000, 0.000, 0.000, 0.000],
    2: [0.000, 0.000, 0.000, 0.000, 0.007, 0.025, 0.055, 0.095, 0.148, 0.165, 0.180, 0.222, 0.295, 0.320,
        0.300, 0.250, 0.210, 0.188, 0.160, 0.115, 0.065, 0.022, 0.003, 0.000, 0.000, 0.000, 0.000],
    3: [-0.002, -0.002, -0.002, 0.000, 0.020, 0.040, 0.075, 0.097, 0.122, 0.140, 0.150, 0.182, 0.232, 0.255,
        0.235, 0.195, 0.165, 0.150, 0.146, 0.115, 0.076, 0.038, 0.014, 0.000, 0.000, 0.000, 0.000],
    4: [0.000, 0.000, 0.000, 0.005, 0.020, 0.030, 0.055, 0.068, 0.100, 0.108, 0.120, 0.150, 0.190, 0.215,
        0.200, 0.160, 0.130, 0.112, 0.104, 0.094, 0.070, 0.040, 0.028, 0.010, 0.000, 0.000, 0.000],
    5: [0.000, 0.000, 0.000, 0.007, 0.015, 0.030, 0.045, 0.060, 0.075, 0.086, 0.097, 0.120, 0.165, 0.194,
        0.180, 0.150, 0.125, 0.115, 0.105, 0.094, 0.075, 0.055, 0.030, 0.014, 0.000, 0.000, 0.000],
    6: [0.000, 0.000, 0.000, 0.006, 0.020, 0.035, 0.050, 0.062, 0.072, 0.078, 0.085, 0.115, 0.150, 0.170,
        0.155, 0.130, 0.115, 0.105, 0.095, 0.082, 0.062, 0.045, 0.035, 0.014, 0.000, 0.000, 0.000],
    7: [0.000, 0.000, 0.000, 0.010, 0.025, 0.038, 0.050, 0.058, 0.068, 0.073, 0.080, 0.105, 0.138, 0.140,
        0.130, 0.115, 0.095, 0.085, 0.078, 0.068, 0.050, 0.040, 0.030, 0.014, 0.002, 0.000, 0.000],
    8: [0.000, 0.000, 0.000, 0.010, 0.020, 0.030, 0.040, 0.048, 0.062, 0.070, 0.078, 0.095, 0.118, 0.125,
        0.120, 0.100, 0.080, 0.072, 0.065, 0.048, 0.036, 0.027, 0.020, 0.010, 0.005, 0.000, 0.000],
    9: [0.000, 0.000, 0.000, 0.010, 0.020, 0.030, 0.043, 0.050, 0.058, 0.062, 0.068, 0.085, 0.105, 0.110,
        0.105, 0.090, 0.078, 0.072, 0.066, 0.055, 0.046, 0.034, 0.020, 0.012, 0.006, 0.002, 0.000],
}

xlabels = [r'$u_x/u_{ref}$', r'$u_y/u_{ref}$',
           r"$u^{\prime}_x u^{\prime}_x/u^2_{ref}$", r"$u^{\prime}_y u^{\prime}_y/u^2_{ref}$"]
legend_labels = [r'Wissink and Rodi DNS [$\mathbf{?}$]',
                 r'$DG$-$\mathbb{P}^{1\rightarrow 5}$ mesh A',
                 r'$DG$-$\mathbb{P}^{1\rightarrow 5}$ mesh B']

colA = '#c42a3c'
colB = '#e0707e'
coldot = '#1c1c1c'

W, H = 849, 1374
fig = plt.figure(figsize=(W / 100, H / 100), dpi=100)

# axes boxes in pixels: left, top, right, bottom
boxes = [(84, 12, 848, 279), (84, 356, 848, 623), (82, 699, 848, 966), (75, 1048, 841, 1314)]
xlims = [(-0.5, 10.46), (-0.25, 4.725), (-0.15, 2.845), (-0.15, 2.847)]
leg_bottom = [0.0, 0.03, 0.03, 0.03]

panels = [
    (ux_offsets, ux_dns, ux_meshA, ux_meshB, ux_xticks),
    (uy_offsets, uy_dns, uy_meshA, uy_meshB, uy_xticks),
    (uxx_offsets, uxx_dns, uxx_meshA, uxx_meshB, uxx_xticks),
    (uyy_offsets, uyy_dns, uyy_meshA, uyy_meshB, uyy_xticks),
]

fmt = FuncFormatter(lambda v, p: r'$%g$' % v)

for k, (offs, dns, meshA, meshB, xt) in enumerate(panels):
    l, t, r, b = boxes[k]
    ax = fig.add_axes([l / W, 1 - b / H, (r - l) / W, (b - t) / H])
    for i in range(10):
        a = np.array(meshA[i]) + offs[i]
        bb = np.array(meshB.get(i, meshA[i])) + offs[i]
        d = np.array(dns[i]) + offs[i]
        la, = ax.plot(a, y_line, color=colA, lw=0.85, zorder=3)
        lb, = ax.plot(bb, y_line, color=colB, lw=0.85, dashes=(7, 4.5), zorder=3)
        ld, = ax.plot(d, y_dns, 'o', ms=3.7, color=coldot, mec='none', zorder=4)
    ax.set_xlim(*xlims[k])
    ax.set_ylim(-3, 3)
    ax.set_xticks(xt)
    ax.set_yticks([-2, 0, 2])
    ax.xaxis.set_major_formatter(fmt)
    ax.yaxis.set_major_formatter(fmt)
    ax.grid(True, color='#cccccc', lw=0.8)
    ax.set_axisbelow(True)
    ax.tick_params(axis='both', direction='inout', length=4, width=0.7, labelsize=12, pad=5)
    for s in ax.spines.values():
        s.set_linewidth(0.9)
        s.set_color('#222222')
    ax.set_ylabel(r'$y/D$', fontsize=12, labelpad=8)
    ax.set_xlabel(xlabels[k], fontsize=12, labelpad=3)
    leg = ax.legend([ld, la, lb], legend_labels, loc='lower right',
                    bbox_to_anchor=(0.9725, leg_bottom[k]), borderaxespad=0,
                    fontsize=12, fancybox=False, framealpha=1, edgecolor='#222222',
                    numpoints=1, handlelength=2.6, handletextpad=0.5, labelspacing=0.3,
                    borderpad=0.45)
    leg.get_frame().set_linewidth(0.9)
    leg.set_zorder(10)

fig.savefig('out.png', dpi=100)
